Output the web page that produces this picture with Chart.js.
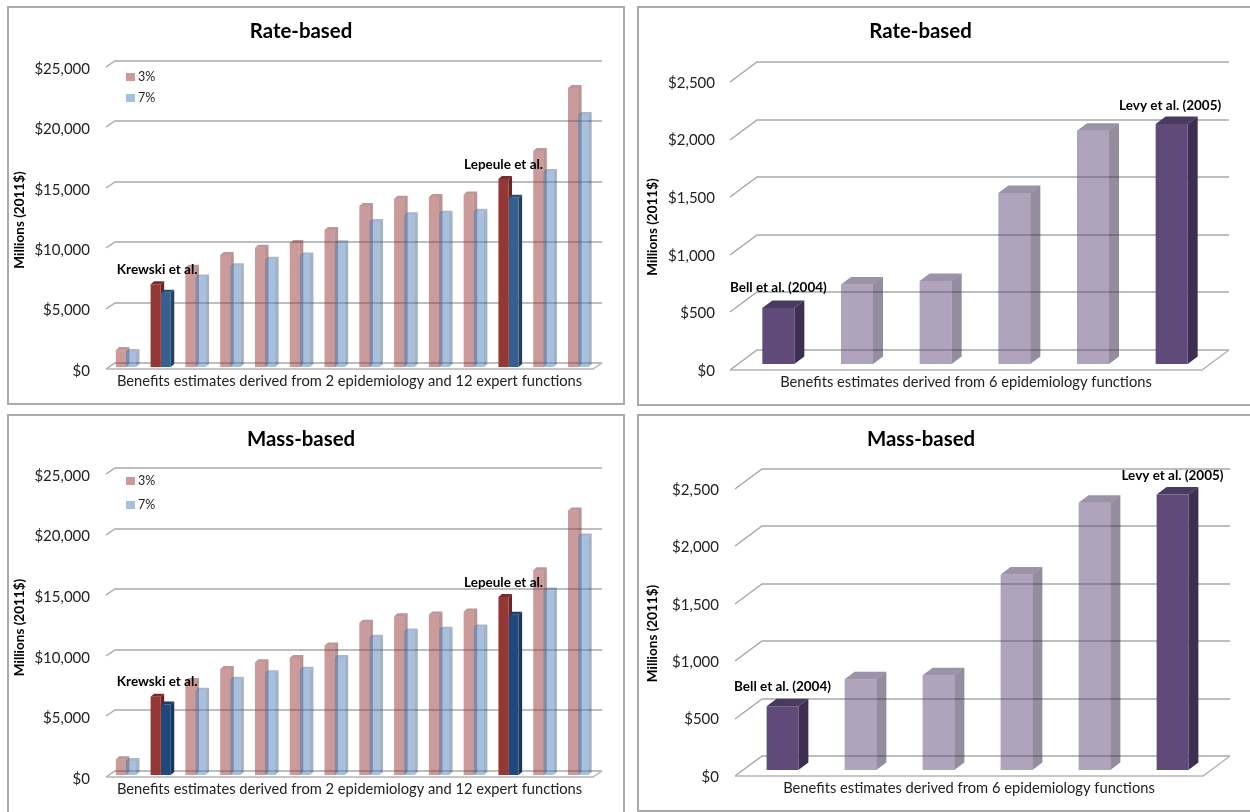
<!DOCTYPE html>
<html>
<head>
<meta charset="utf-8">
<title>Benefits estimates</title>
<script src="https://cdn.jsdelivr.net/npm/chart.js@4"></script>
<style>
  html, body { margin: 0; padding: 0; background: #fff; overflow: hidden; width: 1250px; height: 812px; }
  .panel { position: absolute; box-sizing: border-box; border: 2px solid #ababab; background: #fff; }
  canvas { display: block; }
</style>
</head>
<body>
<div class="panel" style="left:7px;top:6px;width:618px;height:399px"><canvas id="rateExpert"></canvas></div>
<div class="panel" style="left:637px;top:6px;width:640px;height:400px"><canvas id="rateEpi"></canvas></div>
<div class="panel" style="left:7px;top:414px;width:618px;height:420px"><canvas id="massExpert"></canvas></div>
<div class="panel" style="left:637px;top:414px;width:640px;height:398px"><canvas id="massEpi"></canvas></div>

<script>
const expertCategories = ["Expert A", "Krewski et al.", "Expert B", "Expert C", "Expert D", "Expert E", "Expert F",
  "Expert G", "Expert H", "Expert I", "Expert J", "Lepeule et al.", "Expert K", "Expert L"];
const epiCategories = ["Bell et al. (2004)", "Study B", "Study C", "Study D", "Study E", "Levy et al. (2005)"];

const rateThree = [1400, 6850, 8220, 9270, 9880, 10265, 11340, 13330, 13930, 14070, 14290, 15560, 17880, 23100];
const rateSeven = [1240, 6150, 7400, 8330, 8880, 9240, 10240, 12000, 12560, 12690, 12860, 14020, 16140, 20860];
const massThree = [1300, 6460, 7750, 8750, 9300, 9660, 10680, 12560, 13100, 13250, 13490, 14680, 16890, 21830];
const massSeven = [1160, 5820, 6950, 7860, 8390, 8690, 9660, 11320, 11840, 11980, 12170, 13220, 15230, 19680];
const rateBenefits = [486, 690, 720, 1484, 2025, 2083];
const massBenefits = [556, 791, 826, 1702, 2328, 2400];

const expertTicks = ["$0", "$5,000", "$10,000", "$15,000", "$20,000", "$25,000"];
const epiTicks = ["$0", "$500", "$1,000", "$1,500", "$2,000", "$2,500"];

const xTitleExpert = "Benefits estimates derived from 2 epidemiology and 12 expert functions";
const xTitleEpi = "Benefits estimates derived from 6 epidemiology functions";

const lightRed = { front: "rgba(149,55,53,.5)", side: "rgba(115,40,40,.5)", top: "rgba(125,45,45,.5)" };
const lightBlue = { front: "rgba(79,129,189,.5)", side: "rgba(50,85,135,.45)", top: "rgba(60,100,150,.45)" };
const darkRed = { front: "#953735", side: "#6a2423", top: "#772b2a" };
const darkBlue = { front: "#366092", side: "#244061", top: "#2b4e78" };
const navyBlue = { front: "#1f497d", side: "#17375e", top: "#1a3d6a" };
const lightPurple = { front: "rgba(95,73,122,.5)", side: "rgba(60,47,82,.55)", top: "rgba(73,58,96,.55)" };
const darkPurple = { front: "#5f4a7a", side: "#3e2f52", top: "#493a60" };

// paints of one series, the highlighted studies get the dark version
function paints(count, marked, light, dark) {
  const out = [];
  for (let i = 0; i < count; i++) out.push(marked.includes(i) ? dark : light);
  return out;
}

function polygon(ctx, pts, fill) {
  ctx.fillStyle = fill;
  ctx.beginPath();
  pts.forEach((p, i) => (i ? ctx.lineTo(p[0], p[1]) : ctx.moveTo(p[0], p[1])));
  ctx.closePath();
  ctx.fill();
}

// Excel style 3d look: back wall, floor, bar sides and the small labels
const fake3d = {
  id: "fake3d",
  beforeDatasetsDraw(chart) {
    const o = chart.options.plugins.fake3d;
    const ctx = chart.ctx;
    const a = chart.chartArea;
    const yScale = chart.scales.y;

    ctx.save();
    ctx.lineWidth = 1.5;
    ctx.strokeStyle = "#a9a9a9";
    yScale.ticks.forEach((t) => {
      const y = Math.round(yScale.getPixelForValue(t.value)) - o.drop;
      ctx.beginPath();
      ctx.moveTo(a.left, y);
      ctx.lineTo(a.left + o.wallX, y - o.wallY);
      ctx.lineTo(a.right + o.wallX, y - o.wallY);
      ctx.stroke();
    });
    // floor
    ctx.strokeStyle = "#b4b4b4";
    ctx.beginPath();
    ctx.moveTo(a.left, a.bottom - o.drop);
    ctx.lineTo(a.right, a.bottom - o.drop);
    ctx.lineTo(a.right + o.wallX, a.bottom - o.drop - o.wallY);
    ctx.stroke();
    ctx.restore();

    // legend
    if (o.legendY) {
      ctx.save();
      ctx.font = "12.5px Lato";
      ctx.textBaseline = "middle";
      chart.data.datasets.forEach((ds, i) => {
        const y = o.legendY[i];
        ctx.fillStyle = i ? "rgba(79,129,189,.5)" : "rgba(149,55,53,.5)";
        ctx.fillRect(a.left + 20, y - 4, 9, 8);
        ctx.fillStyle = "#222";
        ctx.fillText(ds.label, a.left + 32, y);
      });
      ctx.restore();
    }

    // bars stand inside the floor, so shift them in from the front edge
    ctx.save();
    ctx.translate(o.shiftX, -o.shiftY - o.drop);
    chart.data.datasets.forEach((ds, i) => {
      chart.getDatasetMeta(i).data.forEach((bar, j) => {
        const p = ds.paints[j];
        const l = bar.x - bar.width / 2;
        const r = bar.x + bar.width / 2;
        polygon(ctx, [[l, bar.y], [l + o.depthX, bar.y - o.depthY], [r + o.depthX, bar.y - o.depthY], [r, bar.y]], p.top);
        polygon(ctx, [[r, bar.y], [r + o.depthX, bar.y - o.depthY], [r + o.depthX, bar.base - o.depthY], [r, bar.base]], p.side);
      });
    });
  },
  afterDatasetsDraw(chart) {
    const o = chart.options.plugins.fake3d;
    const ctx = chart.ctx;
    ctx.font = "bold " + o.noteSize + "px Lato";
    ctx.fillStyle = "#000";
    ctx.textAlign = "center";
    ctx.textBaseline = "middle";
    o.notes.forEach((n) => {
      const bar = chart.getDatasetMeta(0).data[n.index];
      const centre = chart.scales.x.getPixelForValue(n.index);
      ctx.fillText(chart.data.labels[n.index], centre + n.dx, bar.y + n.dy);
    });
    ctx.restore();
  }
};
Chart.register(fake3d);

Chart.defaults.font.family = "Lato";
Chart.defaults.color = "#222";
Chart.defaults.animation = false;

// box = canvas size, area = wanted front plane of the plot, both relative to the canvas
function drawChart(id, box, area, titleText, xTitle, categories, tickLabels, step, datasets, extra) {
  const canvas = document.getElementById(id);
  canvas.style.width = box.w + "px";
  canvas.style.height = box.h + "px";
  return new Chart(canvas, {
    type: "bar",
    data: { labels: categories, datasets: datasets },
    options: {
      responsive: false,
      maintainAspectRatio: false,
      layout: { padding: { left: 0, top: 0, right: box.w - area.right, bottom: 0 } },
      datasets: { bar: { clip: false } },
      plugins: {
        legend: { display: false },
        tooltip: { enabled: false },
        title: {
          display: true,
          text: titleText,
          color: "#000",
          font: { size: 20.4, weight: "bold", lineHeight: 1.2 },
          padding: { top: 11, bottom: area.top - 11 - 20.4 * 1.2 }
        },
        fake3d: extra
      },
      scales: {
        x: {
          grid: { display: false },
          border: { display: false },
          ticks: { display: false },
          title: {
            display: true,
            text: xTitle,
            font: { size: 14.7, lineHeight: 1.2 },
            color: "#222",
            padding: { top: 0, bottom: box.h - area.xTitle - 14.7 * 0.6 }
          },
          afterFit: (s) => { s.height = box.h - area.bottom; }
        },
        y: {
          min: 0,
          max: step * 5,
          grid: { display: false, drawTicks: false },
          border: { display: false },
          ticks: {
            stepSize: step,
            padding: area.tickGap,
            font: { size: 15 },
            color: "#222",
            callback: (v) => tickLabels[v / step]
          },
          title: {
            display: true,
            text: "Millions (2011$)",
            color: "#000",
            font: { size: 13.5, weight: "bold", lineHeight: 1.2 },
            padding: { top: area.yTitle, bottom: 0 }
          },
          afterFit: (s) => { s.width = area.left; }
        }
      }
    }
  });
}

function expertSets(three, seven, darkSeven) {
  const marked = [1, 11];
  const redPaints = paints(three.length, marked, lightRed, darkRed);
  const bluePaints = paints(seven.length, marked, lightBlue, darkSeven);
  const common = { categoryPercentage: 0.58, barPercentage: 1, borderWidth: 0 };
  return [
    { label: "3%", data: three, paints: redPaints, backgroundColor: redPaints.map((p) => p.front), ...common },
    { label: "7%", data: seven, paints: bluePaints, backgroundColor: bluePaints.map((p) => p.front), ...common }
  ];
}

function epiSet(values) {
  const purple = paints(values.length, [0, 5], lightPurple, darkPurple);
  return [{ label: "Benefits", data: values, paints: purple, backgroundColor: purple.map((p) => p.front),
    categoryPercentage: 0.407, barPercentage: 1, borderWidth: 0 }];
}

const expertBox = { w: 614, h: 395 };
const expertBoxLow = { w: 614, h: 396 };
const epiBox = { w: 636, h: 396 };
const epiBoxLow = { w: 636, h: 394 };

drawChart("rateExpert", expertBox,
  { left: 97, right: 584, top: 61, bottom: 363, xTitle: 373, tickGap: 16, yTitle: 3 },
  "Rate-based", xTitleExpert, expertCategories, expertTicks, 5000, expertSets(rateThree, rateSeven, darkBlue),
  { wallX: 9, wallY: 6, shiftX: 2.5, shiftY: 2, drop: 2, depthX: 3.5, depthY: 3, noteSize: 13.5, legendY: [69, 90],
    notes: [{ index: 1, dx: -3.5, dy: -15 }, { index: 11, dx: -5, dy: -14 }] });

drawChart("massExpert", expertBoxLow,
  { left: 97, right: 584, top: 60, bottom: 363, xTitle: 373, tickGap: 16, yTitle: 3 },
  "Mass-based", xTitleExpert, expertCategories, expertTicks, 5000, expertSets(massThree, massSeven, navyBlue),
  { wallX: 9, wallY: 6, shiftX: 2.5, shiftY: 2, drop: 2, depthX: 3.5, depthY: 3, noteSize: 13.5, legendY: [65, 89],
    notes: [{ index: 1, dx: -3.5, dy: -15 }, { index: 11, dx: -5, dy: -14 }] });

drawChart("rateEpi", epiBox,
  { left: 91, right: 563, top: 75, bottom: 363, xTitle: 374, tickGap: 15, yTitle: 6 },
  "Rate-based", xTitleEpi, epiCategories, epiTicks, 500, epiSet(rateBenefits),
  { wallX: 27, wallY: 20, shiftX: 9, shiftY: 6, drop: 1, depthX: 10, depthY: 7.5, noteSize: 13.5,
    notes: [{ index: 0, dx: 0, dy: -20 }, { index: 5, dx: -1.5, dy: -18 }] });

drawChart("massEpi", epiBoxLow,
  { left: 96, right: 564, top: 74, bottom: 361, xTitle: 372, tickGap: 16, yTitle: 6 },
  "Mass-based", xTitleEpi, epiCategories, epiTicks, 500, epiSet(massBenefits),
  { wallX: 27, wallY: 20, shiftX: 8.5, shiftY: 6, drop: 1, depthX: 10, depthY: 7.5, noteSize: 13.5,
    notes: [{ index: 0, dx: 0, dy: -20 }, { index: 5, dx: 0, dy: -19 }] });
</script>
</body>
</html>
